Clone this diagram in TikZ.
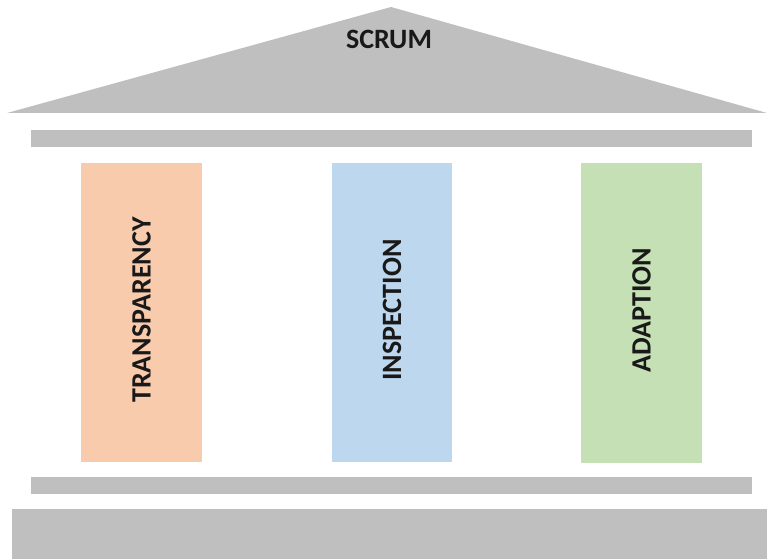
\documentclass[tikz,border=0pt]{standalone}
\usepackage{fontspec}
\setmainfont{Carlito}
\usepackage{tikz}

\definecolor{roofgray}{HTML}{BFBFBF}
\definecolor{peach}{HTML}{F8CBAD}
\definecolor{skyblue}{HTML}{BDD7EE}
\definecolor{leafgreen}{HTML}{C5E0B4}

\begin{document}
\begin{tikzpicture}[x=0.75pt,y=-0.75pt,
		label/.style={font=\fontsize{21}{24}\selectfont\bfseries, text=black!90},
		pillar/.style={label, rotate=90}]
		\useasboundingbox (0,0) rectangle (767,559);

		% roof
		\fill [roofgray] (7,113) -- (391,7) -- (767,113) -- cycle;
		\node [label] (scrum) at (389,39) {SCRUM};

		% beams
		\fill [roofgray] (31,130) rectangle (752,147);
		\fill [roofgray] (31,477) rectangle (752,494);

		% base
		\fill [roofgray] (12,509) rectangle (767,559);

		% pillars
		\fill [peach] (81,163) rectangle (202,462);
		\node [pillar] (transparency) at (141.5,310) {TRANSPARENCY};

		\fill [skyblue] (332,163) rectangle (452,462);
		\node [pillar] (inspection) at (392,310) {INSPECTION};

		\fill [leafgreen] (581,163) rectangle (702,463);
		\node [pillar] (adaption) at (641.5,310) {ADAPTION};
	\end{tikzpicture}
\end{document}
